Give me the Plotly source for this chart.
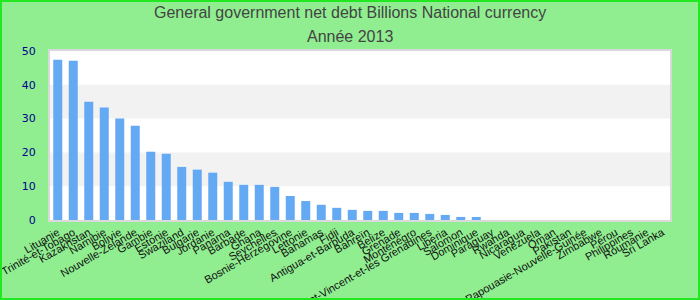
import plotly.graph_objects as go

categories = ["Lituanie", "Trinité-et-Tobago", "Kazakhstan", "Namibie", "Bolivie",
              "Nouvelle-Zélande", "Gambie", "Estonie", "Swaziland", "Bulgarie",
              "Jordanie", "Panama", "Barbade", "Ghana", "Seychelles",
              "Bosnie-Herzégovine", "Lettonie", "Bahamas", "Fidji", "Antigua-et-Barbuda",
              "Bahreïn", "Belize", "Grenade", "Monténégro", "Saint-Vincent-et-les Grenadines",
              "Liberia", "Salomon", "Dominique", "Paraguay", "Rwanda",
              "Nicaragua", "Venezuela", "Oman", "Pakistan", "Papouasie-Nouvelle-Guinée",
              "Zimbabwe", "Pérou", "Philippines", "Roumanie", "Sri Lanka"]
values = [47.4, 47.1, 35.0, 33.3, 30.0,
          27.9, 20.2, 19.6, 15.7, 14.9,
          14.0, 11.3, 10.4, 10.4, 9.8,
          7.1, 5.6, 4.5, 3.6, 3.0,
          2.7, 2.7, 2.1, 2.1, 1.8,
          1.5, 0.9, 0.9, None, None,
          None, None, None, None, None,
          None, None, None, None, None]
y_ticks = [0, 10, 20, 30, 40, 50]
title_lines = ["General government net debt Billions National currency", "Année 2013"]

W, H = 700, 300
ml, mr, mt, mb = 50, 30, 51, 80
pw, ph = W - ml - mr, H - mt - mb

fig = go.Figure(go.Bar(x=categories, y=values, marker_color="#63a9f3",
                       marker_line_width=0))

shapes = []
for i in range(len(y_ticks) - 1):
    if i % 2 == 1:
        shapes.append(dict(type="rect", xref="paper", yref="y", x0=0, x1=1,
                           y0=y_ticks[i], y1=y_ticks[i + 1], fillcolor="#f2f2f2",
                           line_width=0, layer="below"))
shapes.append(dict(type="rect", xref="paper", yref="paper",
                   x0=-(ml - 1) / pw, x1=1 + (mr - 1) / pw,
                   y0=-(mb - 1) / ph, y1=1 + (mt - 1) / ph,
                   line=dict(color="#22e822", width=2), fillcolor="rgba(0,0,0,0)",
                   layer="above"))

title_font = dict(family="Liberation Sans, Arial, sans-serif", size=16, color="#444444")
centers_px = [13, 36]
annotations = []
for txt, cy in zip(title_lines, centers_px):
    annotations.append(dict(text=txt, showarrow=False, xref="paper", yref="paper",
                            x=(W / 2 - ml) / pw, y=1 + (mt - cy) / ph,
                            xanchor="center", yanchor="middle", font=title_font))

fig.update_layout(
    width=W, height=H,
    margin=dict(l=ml, r=mr, t=mt, b=mb, pad=0),
    paper_bgcolor="#90ee90", plot_bgcolor="#ffffff",
    bargap=0.42,
    showlegend=False,
    shapes=shapes,
    annotations=annotations,
    font=dict(family="Liberation Sans, Arial, sans-serif"),
)
fig.update_xaxes(type="category", tickangle=-30, showgrid=False,
                 tickfont=dict(size=11, color="#111111",
                               family="Liberation Sans, Arial, sans-serif"),
                 showline=True, linecolor="#d9d9d9", linewidth=2, mirror=True,
                 ticks="", automargin=False)
fig.update_yaxes(range=[0, 50], tickvals=y_ticks, showgrid=False, zeroline=False,
                 tickfont=dict(size=11, color="#00008b",
                               family="DejaVu Sans, sans-serif"),
                 showline=True, linecolor="#d9d9d9", linewidth=2, mirror=True,
                 ticks="outside", ticklen=10, tickcolor="rgba(0,0,0,0)",
                 automargin=False)

fig.write_html("out.html")
